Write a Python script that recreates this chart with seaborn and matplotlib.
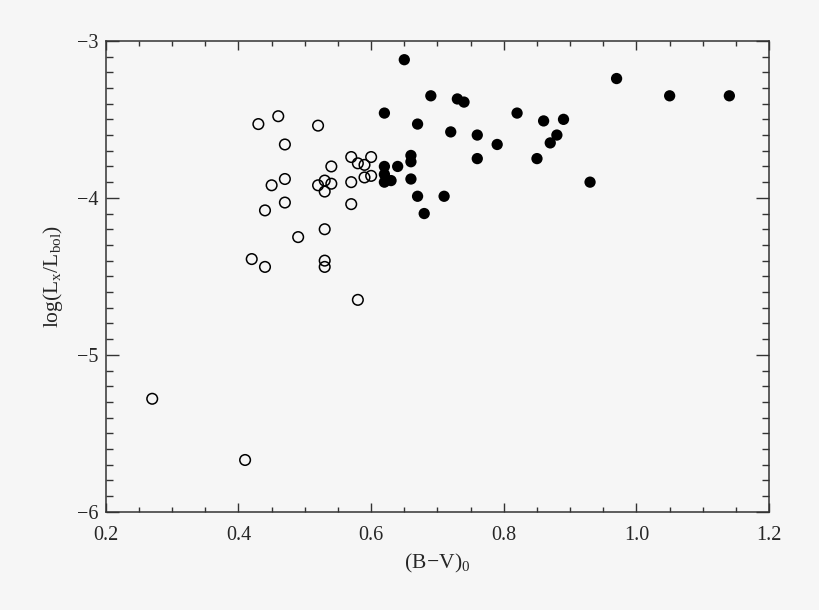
import numpy as np
import pandas as pd
import matplotlib
matplotlib.use('Agg')
import matplotlib.pyplot as plt
from matplotlib.ticker import MultipleLocator
import seaborn as sns

# open circles
bv_open = [0.43, 0.46, 0.52, 0.47, 0.54, 0.57, 0.58, 0.59, 0.60, 0.59,
           0.60, 0.47, 0.45, 0.52, 0.53, 0.54, 0.53, 0.57, 0.47, 0.44,
           0.57, 0.53, 0.49, 0.42, 0.44, 0.53, 0.53, 0.58, 0.27, 0.41]
lx_open = [-3.53, -3.48, -3.54, -3.66, -3.80, -3.74, -3.78, -3.79, -3.74, -3.87,
           -3.86, -3.88, -3.92, -3.92, -3.89, -3.91, -3.96, -3.90, -4.03, -4.08,
           -4.04, -4.20, -4.25, -4.39, -4.44, -4.40, -4.44, -4.65, -5.28, -5.67]

# filled circles
bv_fill = [0.65, 0.69, 0.73, 0.74, 0.62, 0.67, 0.72, 0.76, 0.79, 0.82,
           0.86, 0.89, 0.88, 0.87, 0.97, 1.05, 1.14, 0.76, 0.85, 0.93,
           0.66, 0.66, 0.62, 0.64, 0.62, 0.62, 0.63, 0.66, 0.67, 0.71, 0.68]
lx_fill = [-3.12, -3.35, -3.37, -3.39, -3.46, -3.53, -3.58, -3.60, -3.66, -3.46,
           -3.51, -3.50, -3.60, -3.65, -3.24, -3.35, -3.35, -3.75, -3.75, -3.90,
           -3.73, -3.77, -3.80, -3.80, -3.85, -3.90, -3.89, -3.88, -3.99, -3.99, -4.10]

xticks = [0.2, 0.4, 0.6, 0.8, 1.0, 1.2]
xtick_labels = ['0.2', '0.4', '0.6', '0.8', '1.0', '1.2']
yticks = [-6, -5, -4, -3]
ytick_labels = ['\u22126', '\u22125', '\u22124', '\u22123']

df_open = pd.DataFrame({'bv': bv_open, 'lx': lx_open})
df_fill = pd.DataFrame({'bv': bv_fill, 'lx': lx_fill})

sns.set_style('ticks')
bg = '#f6f6f6'
plt.rcParams['font.family'] = ['Liberation Serif', 'DejaVu Serif']
plt.rcParams['mathtext.fontset'] = 'custom'
plt.rcParams['mathtext.rm'] = 'Liberation Serif'
plt.rcParams['mathtext.it'] = 'Liberation Serif'

fig = plt.figure(figsize=(8.2, 6.1), dpi=100, facecolor=bg)
ax = fig.add_axes([0.129, 0.161, 0.809, 0.772])
ax.set_facecolor(bg)

sns.scatterplot(data=df_open, x='bv', y='lx', ax=ax, marker='o', s=58,
                facecolors='none', edgecolor='black', linewidth=1.1)
sns.scatterplot(data=df_fill, x='bv', y='lx', ax=ax, marker='o', s=66,
                color='black', edgecolor='none', linewidth=0)

ax.set_xlim(0.2, 1.2)
ax.set_ylim(-6.0, -3.0)
ax.set_xticks(xticks)
ax.set_xticklabels(xtick_labels)
ax.set_yticks(yticks)
ax.set_yticklabels(ytick_labels)
ax.xaxis.set_minor_locator(MultipleLocator(0.05))
ax.yaxis.set_minor_locator(MultipleLocator(0.1))

for s in ax.spines.values():
    s.set_visible(True)
    s.set_linewidth(1.1)
    s.set_color('#333333')

ax.tick_params(axis='x', which='major', direction='in', length=6.8, width=1.0,
               top=True, bottom=True, labelsize=14.5, pad=10, color='#333333')
ax.tick_params(axis='x', which='minor', direction='in', length=3.4, width=1.0,
               top=True, bottom=True, color='#333333')
ax.tick_params(axis='y', which='major', direction='in', length=9.6, width=1.0,
               left=True, right=True, labelsize=14.5, pad=5, color='#333333')
ax.tick_params(axis='y', which='minor', direction='in', length=4.8, width=1.0,
               left=True, right=True, color='#333333')

ax.set_xlabel(r'$\mathrm{(B\!-\!V)_0}$', fontsize=15.5, labelpad=5)
ax.set_ylabel(r'$\mathrm{log(L_x/L_{bol})}$', fontsize=15.5, labelpad=9)

fig.savefig('out.png', dpi=100, facecolor=bg)
